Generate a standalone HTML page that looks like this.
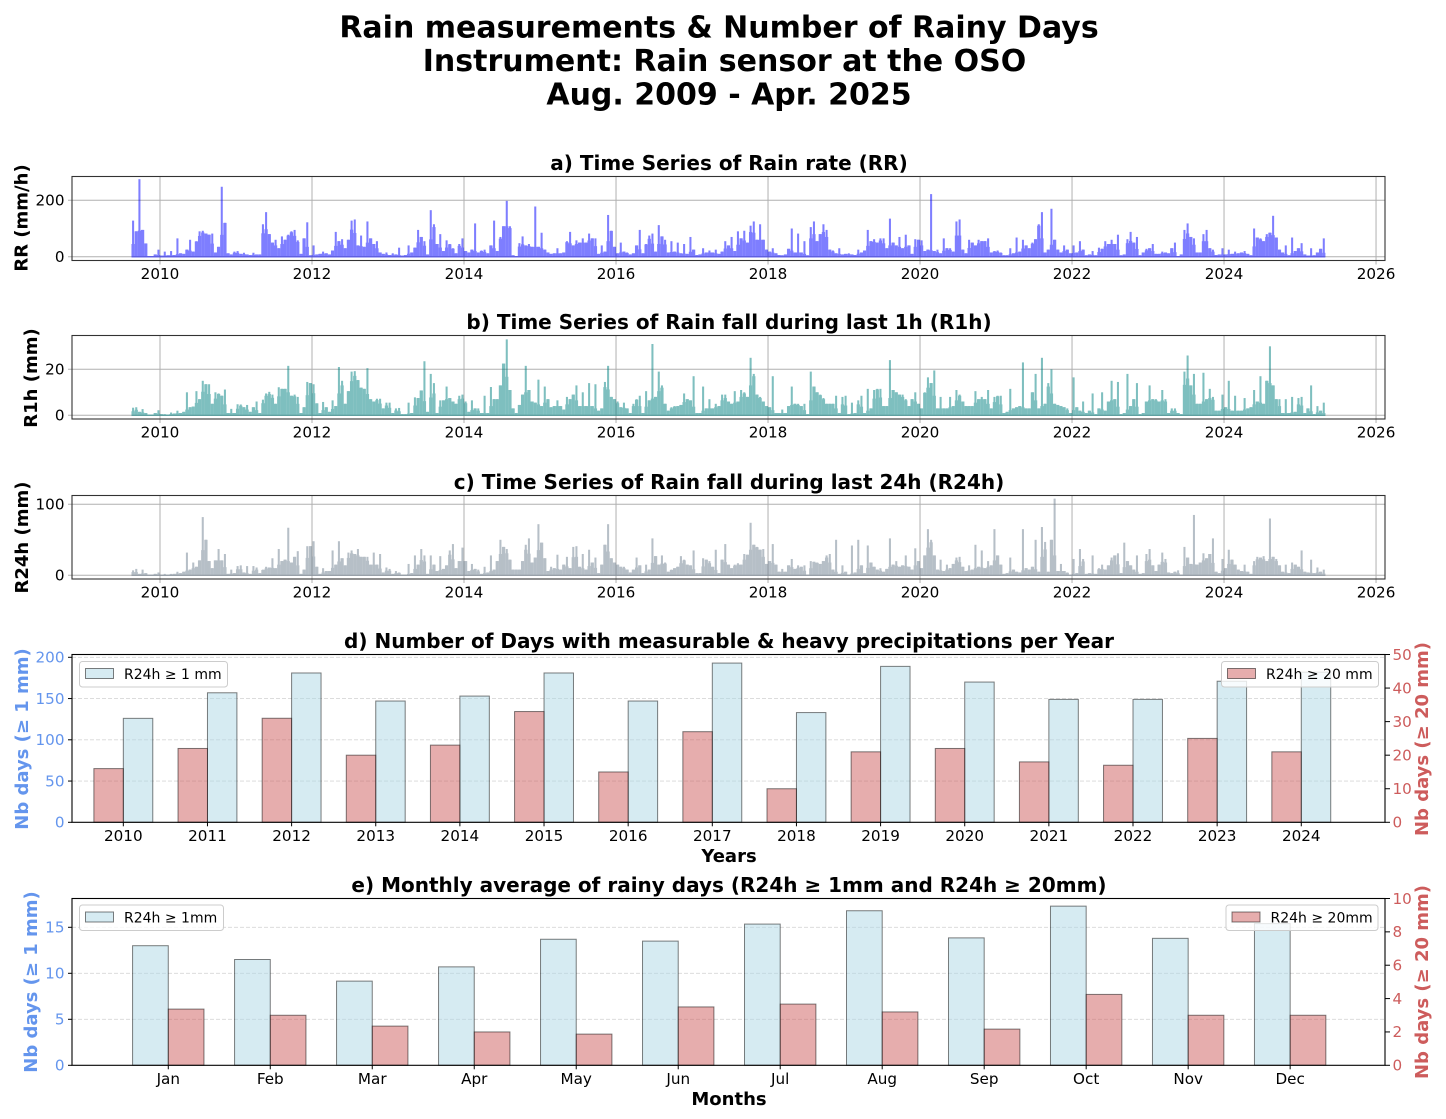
<!DOCTYPE html>
<html lang="en">
<head>
<meta charset="utf-8">
<title>Rain measurements &amp; Number of Rainy Days</title>
<style>
html,body{margin:0;padding:0;background:#fff;}
svg{display:block;font-family:"DejaVu Sans","Liberation Sans",sans-serif;}
.main{font-size:30px;font-weight:700;text-anchor:middle;fill:#000;}
.ptitle{font-size:20px;font-weight:700;text-anchor:middle;fill:#000;}
.ylab{font-size:18px;font-weight:700;text-anchor:middle;fill:#000;}
.xlab{font-size:18px;font-weight:700;text-anchor:middle;fill:#000;}
.tick{font-size:15.2px;fill:#000;}
.leg{font-size:14px;fill:#000;}
</style>
</head>
<body>
<svg id="chart" xmlns="http://www.w3.org/2000/svg" width="1446" height="1119" viewBox="0 0 1446 1119">
  <rect x="0" y="0" width="1446" height="1119" fill="#fff"/>
  <g>
    <text class="main" x="719" y="37.5">Rain measurements &amp; Number of Rainy Days</text>
    <text class="main" x="724.5" y="71">Instrument: Rain sensor at the OSO</text>
    <text class="main" x="729" y="104.5">Aug. 2009 - Apr. 2025</text>
  </g>
  <text class="ptitle" x="729" y="170">a) Time Series of Rain rate (RR)</text>
  <text class="ptitle" x="729" y="329">b) Time Series of Rain fall during last 1h (R1h)</text>
  <text class="ptitle" x="729" y="489">c) Time Series of Rain fall during last 24h (R24h)</text>
  <text class="ptitle" x="729" y="648">d) Number of Days with measurable &amp; heavy precipitations per Year</text>
  <text class="ptitle" x="729" y="892">e) Monthly average of rainy days (R24h ≥ 1mm and R24h ≥ 20mm)</text>

  <text class="ylab" transform="translate(27.5,218) rotate(-90)">RR (mm/h)</text>
  <text class="ylab" transform="translate(37,378) rotate(-90)">R1h (mm)</text>
  <text class="ylab" transform="translate(28,537.5) rotate(-90)">R24h (mm)</text>
  <text class="ylab" style="fill:#6495ed" transform="translate(28,739) rotate(-90)">Nb days (≥ 1 mm)</text>
  <text class="ylab" style="fill:#cd5c5c" transform="translate(1428,739) rotate(-90)">Nb days (≥ 20 mm)</text>
  <text class="ylab" style="fill:#6495ed" transform="translate(37,982) rotate(-90)">Nb days (≥ 1 mm)</text>
  <text class="ylab" style="fill:#cd5c5c" transform="translate(1428,982) rotate(-90)">Nb days (≥ 20 mm)</text>
  <text class="xlab" x="729" y="862">Years</text>
  <text class="xlab" x="729" y="1105">Months</text>
</svg>
<script>
/* ---------- data ---------- */
var seriesStartYear = 2009.625;
var binsPerYear = 24;
var rrValues = [
128,90,275,95,47,0,0,8,25,
4,18,5,20,6,65,12,10,25,60,18,55,90,92,82,78,82,15,35,248,120,12,8,18,
20,10,14,8,6,14,8,8,115,158,80,50,60,30,72,60,78,90,95,58,10,65,122,5,
40,8,10,18,12,8,22,88,55,62,30,60,128,132,40,75,35,125,65,45,55,15,10,15,
6,12,8,32,4,6,40,15,32,95,70,55,8,165,115,45,80,20,58,45,30,12,45,65,
20,15,25,118,15,22,25,12,40,128,20,70,108,198,108,5,0,48,72,40,45,35,178,35,
85,25,15,10,12,30,12,15,55,88,40,58,50,65,50,82,65,65,10,40,18,148,92,35,
12,50,18,15,8,12,40,95,12,45,75,82,18,112,72,60,15,55,18,50,12,45,10,70,
25,6,8,30,15,22,15,25,10,18,55,40,70,20,90,65,92,50,110,125,60,115,60,25,
18,30,12,6,5,8,28,100,15,82,15,55,5,105,125,55,80,115,95,25,22,12,30,8,
10,12,8,6,25,15,22,95,55,62,50,65,65,30,135,50,40,70,30,78,40,10,62,60,
58,20,25,222,20,25,12,65,30,30,18,125,132,25,12,60,50,40,60,55,55,65,15,20,
22,15,5,5,30,12,68,18,60,40,30,50,62,115,158,15,25,170,60,25,15,40,25,12,
40,15,55,25,5,8,20,5,32,28,55,45,60,45,78,5,8,62,88,50,70,5,15,28,
30,45,10,10,18,15,12,30,50,2,8,95,118,70,65,15,15,80,95,30,25,6,8,30,
8,25,10,18,12,15,20,10,5,100,68,65,55,80,85,145,68,25,15,40,5,68,20,30,
48,8,4,30,5,15,28,65
];
var r1hValues = [
3.3,3.5,1.5,2.7,1,0,0,1,2.2,
0.5,0.5,0.3,1.2,0.8,2,1,1.5,10,3.5,3.8,10.5,7,15,13.5,13.5,5,10,9.5,8.5,11.2,1,2.8,1,
4.8,4.7,3.5,4.5,1.5,3.5,6,1,6.8,9.5,10.2,9,5,12.2,11.5,11.5,21.5,8.5,9,8,1,3.5,14.5,14,
13.5,5.2,1,5.8,3.5,1.5,6.5,4,21,15,5,10.5,19,19.2,15.3,12,11.5,20.5,7,6,7.2,7.2,3,5.5,
5.5,1,3,3.2,0.5,0.5,5.5,1,7.8,7.5,10.8,23.5,1.5,18,14,1,6.5,6.5,12.5,7.5,6,5,8.5,9,
6,1.5,6.5,3,3,1,8.5,1,12.3,7,7,13,22.5,33,11,3,1,4.5,9,21.5,11,6,5.5,15.5,
4,12.5,7,3.5,4,6.5,4,2.5,8,7,9,13,4,10,4,14,4,13.5,2,3,14.5,21.5,8,7,
6,3.5,5.5,3,1,5,7,8.5,1,10.5,6.5,31,8,19,13,5,2,3.5,4,4,4.5,9.5,7,6.5,
17,1,1,12.5,3,7,3,5,4,9,9,6,5,10.5,6,11,10,8,25,18,9,8,6,4,
3.5,17,1,1,2.5,1,4,12.5,5,5,4,5,0.5,19,12.5,10,9,7.5,5,5,5,8.5,1,8,
8.5,0.5,5.5,1,6.5,8.5,1,11.5,3,11,11.5,11.5,4,4,24,11,10,9,9,7,4,7,10,5,
3,10,16.5,14,19.5,3,8,3,3,8,4,11,9,6,4,4,4,10.5,7,8,7,11,3,8,
8.5,8.5,1,1.5,11.5,3,3.5,4,23,3,3,10,18,3,25,5,14,20,5,4.5,4,3.5,3,1,
16.5,3.5,2,6,1,2,9.5,0.5,3,10,2,6,15,7,14.5,0.5,1,18,4,7,14,0.5,1,6,
13,7,7,6,11,7,1,3,3,1,0.5,19,26,13,18,5,5,18.5,7,11.5,8,2,2,9,
3.5,15,2,8.5,2,2,7.5,3,3.5,11,6,17,5,15,30,13,7,7,1,7,1,8,1.5,7.5,
8,1,3,13,0.5,4,2,5.5
];
var r24hValues = [
7,9,2,8,3,0,0,2,4,
1,2,1,2,2,5,3,5,32,8,18,12,21,82,50,20,10,21,37,21,30,2,8,3,
13,14,4,13,2,13,11,3,8,12,11,24,10,37,20,22,67,18,26,34,2,8,41,41,
48,12,2,10,6,6,35,15,48,24,14,32,35,30,37,26,26,26,15,32,15,30,4,11,
9,2,6,4,1,1,16,3,28,15,37,28,2,28,15,6,27,9,14,35,44,10,20,39,
20,6,16,9,8,2,12,4,28,8,20,50,40,37,22,8,8,8,20,43,52,18,25,72,
46,24,6,12,10,29,8,15,26,10,40,41,12,30,8,36,18,25,3,15,43,72,24,18,
15,12,12,8,4,8,25,14,3,15,8,52,27,15,28,18,5,8,10,12,27,22,15,14,
35,3,3,24,22,20,12,36,3,22,44,15,10,15,17,15,30,29,74,43,40,36,37,16,
20,44,15,5,9,5,14,23,9,14,12,14,1,20,19,18,16,20,28,30,8,50,2,14,
5,1,42,4,50,14,3,42,18,12,8,10,5,9,52,15,20,12,14,28,12,8,38,20,
10,28,65,50,28,8,22,6,15,10,16,25,26,12,6,14,8,43,12,35,10,20,14,65,
28,15,2,3,25,8,5,4,65,10,8,12,50,5,68,47,5,50,108,6,16,6,4,1,
23,3,37,23,2,3,28,2,10,15,8,14,25,28,31,3,46,20,14,8,28,2,3,30,
37,14,6,15,32,23,4,3,5,7,1,40,25,16,85,15,18,31,24,30,52,5,3,23,
10,36,22,15,8,6,15,5,2,20,26,25,27,20,80,26,23,14,5,15,3,18,15,12,
35,5,4,22,3,11,5,8
];
var timeTickLabels = [2010,2012,2014,2016,2018,2020,2022,2024,2026];
var rrTickLabels = [0,200];
var r1hTickLabels = [0,20];
var r24hTickLabels = [0,100];
var yearCategories = [2010,2011,2012,2013,2014,2015,2016,2017,2018,2019,2020,2021,2022,2023,2024];
var rainyDaysByYear = [126,157,181,147,153,181,147,193,133,189,170,149,149,171,182];
var heavyDaysByYear = [16,22,31,20,23,33,15,27,10,21,22,18,17,25,21];
var yearlyLeftTicks = [0,50,100,150,200];
var yearlyRightTicks = [0,10,20,30,40,50];
var monthCategories = ['Jan','Feb','Mar','Apr','May','Jun','Jul','Aug','Sep','Oct','Nov','Dec'];
var rainyDaysByMonth = [13,11.5,9.15,10.7,13.7,13.5,15.35,16.8,13.85,17.3,13.8,15.4];
var heavyDaysByMonth = [3.37,3.0,2.35,2.0,1.87,3.5,3.67,3.2,2.17,4.25,3.0,3.0];
var monthlyLeftTicks = [0,5,10,15];
var monthlyRightTicks = [0,2,4,6,8,10];

/* ---------- helpers ---------- */
var NS = 'http://www.w3.org/2000/svg';
var svg = document.getElementById('chart');
var LEFT = 72, RIGHT = 1385;
function mk(tag, attrs, parent, txt){
  var el = document.createElementNS(NS, tag);
  for (var k in attrs) el.setAttribute(k, attrs[k]);
  if (txt !== undefined) el.textContent = txt;
  (parent || svg).appendChild(el);
  return el;
}
function scale(d0, d1, r0, r1){
  return function(v){ return r0 + (v - d0) * (r1 - r0) / (d1 - d0); };
}
var xTime = scale(2008.842, 2026.118, LEFT, RIGHT);
var xYear = scale(2009.39, 2024.995, LEFT, RIGHT);
var xMonth = scale(-0.944, 11.93, LEFT, RIGHT);

function label(parent, x, y, s, anchor, fill){
  var el = mk('text', {x:x, y:y, 'class':'tick', 'text-anchor':anchor, style:'fill:'+fill}, parent, s);
  
  
  return el;
}
function line(parent, x1, y1, x2, y2, stroke, w, extra){
  var a = {x1:x1, y1:y1, x2:x2, y2:y2, stroke:stroke, 'stroke-width':w};
  if (extra) for (var k in extra) a[k] = extra[k];
  return mk('line', a, parent);
}
function frame(parent, top, bottom, color){
  var el = mk('rect', {x:LEFT, y:top, width:RIGHT-LEFT, height:bottom-top, fill:'none', stroke:color, 'stroke-width':1.1}, parent);
  
  
}

/* ---------- time-series panels ---------- */
function timePanel(name, values, color, top, bottom, yTicks, yScale){
  var g = mk('g', {}, svg);
  
  
  var grid = mk('g', {}, g);
  
  
  timeTickLabels.forEach(function(t){
    line(grid, xTime(t), top, xTime(t), bottom+4, '#b0b0b0', 1);
    label(g, xTime(t), bottom+18.5, t, 'middle', '#000');
  });
  yTicks.forEach(function(t){
    line(grid, LEFT-4, yScale(t), RIGHT, yScale(t), '#b0b0b0', 1);
    label(g, LEFT-7.5, yScale(t)+5.3, t, 'end', '#000');
  });
  var marks = mk('g', {opacity:0.5}, g);
  
  
  var n = values.length;
  var base = line(marks, xTime(seriesStartYear), yScale(0), xTime(seriesStartYear + n/binsPerYear), yScale(0), color, 1.5);
  
  
  values.forEach(function(v, i){
    var d = seriesStartYear + (i + 0.5) / binsPerYear;
    /* solid body shared with the neighbouring bins, narrow spike for the bin's peak */
    var prev = i > 0 ? values[i-1] : 0;
    var next = i < n-1 ? values[i+1] : 0;
    var body = Math.min(v, (prev + next) / 2);
    var fw = xTime(d + 0.5/binsPerYear) - xTime(d - 0.5/binsPerYear) + 0.1;
    var bodyBar = mk('rect', {x:xTime(d) - fw/2, y:yScale(body), width:fw, height:Math.max(0, yScale(0) - yScale(body)), fill:color}, marks);
    
    
    var w = xTime(d + 0.0135) - xTime(d - 0.0135);
    var bar = mk('rect', {x:xTime(d) - w/2, y:yScale(v), width:w, height:Math.max(0, yScale(0) - yScale(v)), fill:color}, marks);
    
    
  });
  frame(g, top, bottom, '#333');
}
timePanel('rr', rrValues, '#0000ff', 176.5, 260.5, rrTickLabels, scale(0, 200, 256.7, 200.3));
timePanel('r1h', r1hValues, '#008080', 335.5, 419, r1hTickLabels, scale(0, 20, 415.3, 369.3));
timePanel('r24h', r24hValues, '#708090', 495.5, 579, r24hTickLabels, scale(0, 100, 575.3, 504.3));

/* ---------- bar panels ---------- */
function legend(parent, name, x, y, w, h, fill, text){
  var g = mk('g', {}, parent);
  
  
  mk('rect', {x:x, y:y, width:w, height:h, rx:3, fill:'#fff', 'fill-opacity':0.8, stroke:'#ccc', 'stroke-width':1}, g);
  mk('rect', {x:x+6, y:y+7, width:28, height:10, fill:fill, 'fill-opacity':0.5, stroke:'#000', 'stroke-opacity':0.5, 'stroke-width':1}, g);
  mk('text', {x:x+44.5, y:y+17.5, 'class':'leg'}, g, text);
}
function barPanel(cfg){
  var g = mk('g', {}, svg);
  
  
  var yL = scale(0, cfg.leftRef, cfg.bottom, cfg.leftRefY);
  var yR = scale(0, cfg.rightMax, cfg.bottom, cfg.top);
  cfg.leftTicks.forEach(function(t){
    if (t > 0) {
      var gl = line(g, LEFT, yL(t), RIGHT, yL(t), '#b0b0b0', 0.8, {'stroke-dasharray':'4 2', 'stroke-opacity':0.5});
      
      
    }
    line(g, LEFT-4, yL(t), LEFT, yL(t), '#000', 1);
    label(g, LEFT-7.5, yL(t)+5.3, t, 'end', '#6495ed');
  });
  cfg.rightTicks.forEach(function(t){
    line(g, RIGHT, yR(t), RIGHT+5, yR(t), '#000', 1);
    label(g, RIGHT+7.5, yR(t)+5.3, t, 'start', '#cd5c5c');
  });
  cfg.categories.forEach(function(c, i){
    var cx = cfg.x(cfg.pos(i));
    line(g, cx, cfg.bottom, cx, cfg.bottom+4, '#000', 1);
    label(g, cx, cfg.bottom+18.5, c, 'middle', '#000');
    var w = cfg.x(cfg.pos(i) + 0.35) - cx;
    var bx = cfg.redFirst ? cx : cx - w;
    var blue = mk('rect', {x:bx, y:yL(cfg.left[i]), width:w, height:cfg.bottom - yL(cfg.left[i]), fill:'#add8e6', 'fill-opacity':0.5, stroke:'#000', 'stroke-opacity':0.5, 'stroke-width':1}, g);
    
    
  });
  cfg.categories.forEach(function(c, i){
    var cx = cfg.x(cfg.pos(i));
    var w = cfg.x(cfg.pos(i) + 0.35) - cx;
    var rx = cfg.redFirst ? cx - w : cx;
    var red = mk('rect', {x:rx, y:yR(cfg.right[i]), width:w, height:cfg.bottom - yR(cfg.right[i]), fill:'#cd5c5c', 'fill-opacity':0.5, stroke:'#000', 'stroke-opacity':0.5, 'stroke-width':1}, g);
    
    
  });
  frame(g, cfg.top, cfg.bottom, '#000');
  legend(g, cfg.name + '-legend-rainy', cfg.legL[0], cfg.legL[1], cfg.legL[2], 25.5, '#add8e6', cfg.legLText);
  legend(g, cfg.name + '-legend-heavy', cfg.legR[0], cfg.legR[1], cfg.legR[2], 25.5, '#cd5c5c', cfg.legRText);
}
barPanel({
  name:'yearly', top:654.5, bottom:822.3, left:rainyDaysByYear, right:heavyDaysByYear,
  categories:yearCategories, pos:function(i){ return yearCategories[i]; }, x:xYear, redFirst:true,
  leftTicks:yearlyLeftTicks, rightTicks:yearlyRightTicks, leftRef:200, leftRefY:657.3, rightMax:50,
  legL:[79.5,661.5,148], legLText:'R24h ≥ 1 mm', legR:[1221.5,661.5,157], legRText:'R24h ≥ 20 mm'
});
barPanel({
  name:'monthly', top:898.5, bottom:1065.3, left:rainyDaysByMonth, right:heavyDaysByMonth,
  categories:monthCategories, pos:function(i){ return i; }, x:xMonth, redFirst:false,
  leftTicks:monthlyLeftTicks, rightTicks:monthlyRightTicks, leftRef:15, leftRefY:927.3, rightMax:10,
  legL:[79.5,905,144], legLText:'R24h ≥ 1mm', legR:[1226,905,152], legRText:'R24h ≥ 20mm'
});
</script>
</body>
</html>
